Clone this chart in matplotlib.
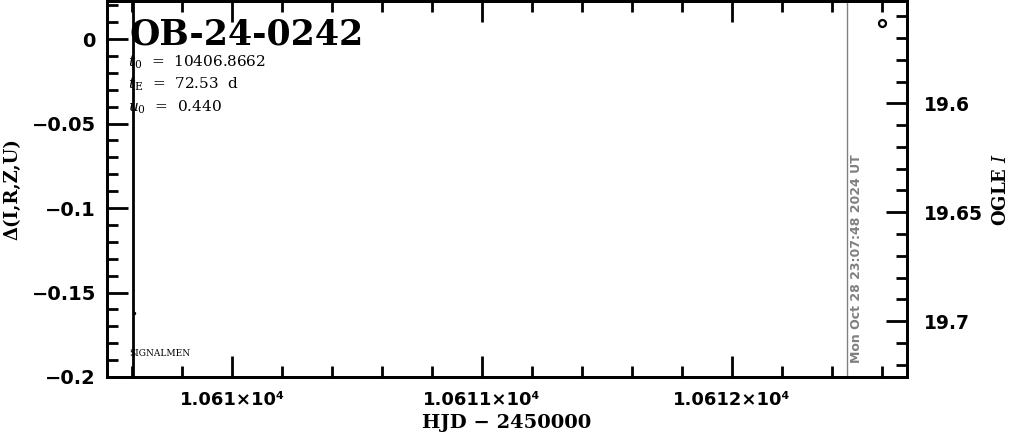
import matplotlib
matplotlib.use("Agg")
import matplotlib.pyplot as plt
from matplotlib.ticker import MultipleLocator, FixedLocator, FixedFormatter

# --- data ---
ogle_hjd = [10612.60]
ogle_mag = [19.5633]
diff_hjd = [10609.607]
diff_val = [-0.162]
model_hjd = 10609.604          # vertical model/marker line
now_hjd = 10612.46             # "now" line
now_label = "Mon Oct 28 23:07:48 2024 UT"

event_name = "OB-24-0242"
t0, tE, u0 = "10406.8662", "72.53", "0.440"

x_ticks = [10610, 10611, 10612]
x_labels = ["1.061×10⁴", "1.0611×10⁴", "1.0612×10⁴"]
y_ticks = [0, -0.05, -0.1, -0.15, -0.2]
y_labels = ["0", "−0.05", "−0.1", "−0.15", "−0.2"]
mag_ticks = [19.6, 19.65, 19.7]
mag_labels = ["19.6", "19.65", "19.7"]

plt.rcParams["mathtext.fontset"] = "dejavuserif"

fig = plt.figure(figsize=(10.11, 4.34), dpi=100)
ax = fig.add_axes([107 / 1011, 57 / 434, 800 / 1011, 376 / 434])
ax2 = ax.twinx()

ax.set_xlim(10609.5, 10612.7)
ax.set_ylim(-0.2, 0.0225)
ax2.set_ylim(19.7257, 19.5530)

# marks
ax.axvline(model_hjd, color="black", lw=2)
ax.axvline(now_hjd, color="gray", lw=1)
ax.plot(diff_hjd, diff_val, "o", color="black", ms=1.5)
ax2.plot(ogle_hjd, ogle_mag, "o", mfc="white", mec="black", mew=1.6, ms=5)

# ticks
for a in (ax, ax2):
    for s in a.spines.values():
        s.set_linewidth(2)
    a.tick_params(which="both", direction="in", width=2)
    a.tick_params(which="major", length=15)
    a.tick_params(which="minor", length=8)

ax.xaxis.set_major_locator(FixedLocator(x_ticks))
ax.xaxis.set_major_formatter(FixedFormatter(x_labels))
ax.xaxis.set_minor_locator(MultipleLocator(0.2))
ax.yaxis.set_major_locator(FixedLocator(y_ticks))
ax.yaxis.set_major_formatter(FixedFormatter(y_labels))
ax.yaxis.set_minor_locator(MultipleLocator(0.01))
ax.tick_params(axis="x", top=True, which="both")
ax.tick_params(axis="y", right=False, which="both")
ax.tick_params(labelsize=14, pad=8)
for lab in ax.get_xticklabels() + ax.get_yticklabels():
    lab.set_fontweight("bold")
    lab.set_family("DejaVu Sans")
ax.tick_params(axis="x", labelsize=13, pad=10)

ax2.yaxis.set_major_locator(FixedLocator(mag_ticks))
ax2.yaxis.set_major_formatter(FixedFormatter(mag_labels))
ax2.yaxis.set_minor_locator(MultipleLocator(0.01))
ax2.tick_params(labelsize=13.5, pad=12)
for lab in ax2.get_yticklabels():
    lab.set_fontweight("bold")

# labels
ax.set_xlabel("HJD − 2450000", family="DejaVu Serif", fontweight="bold",
              fontsize=14, labelpad=4)
ax.set_ylabel("Δ(I,R,Z,U)", family="DejaVu Serif", fontweight="bold",
              fontsize=13, labelpad=7)
ax2.set_ylabel("OGLE $\\mathbf{\\mathit{I}}$", family="DejaVu Serif",
               fontweight="bold", fontsize=13, labelpad=7)

# annotations
ax.text(0.028, 0.885, event_name, transform=ax.transAxes, ha="left",
        va="baseline", family="DejaVu Serif", fontweight="bold", fontsize=25)
params = [f"$t_0$  =  {t0}", f"$t_{{\\rm E}}$  =  {tE}  d", f"$u_0$  =  {u0}"]
for i, p in enumerate(params):
    ax.text(0.026, 0.838 - i * 0.06, p, transform=ax.transAxes, ha="left",
            va="center", family="DejaVu Serif", fontsize=11)
ax.text(0.028, 0.062, "SIGNALMEN", transform=ax.transAxes, ha="left",
        va="center", family="DejaVu Serif", fontsize=6.5)
ax.text(now_hjd + 0.037, -0.192, now_label, rotation=90, ha="center",
        va="bottom", color="gray", fontweight="bold", fontsize=9)

fig.savefig("out.png", dpi=100)
